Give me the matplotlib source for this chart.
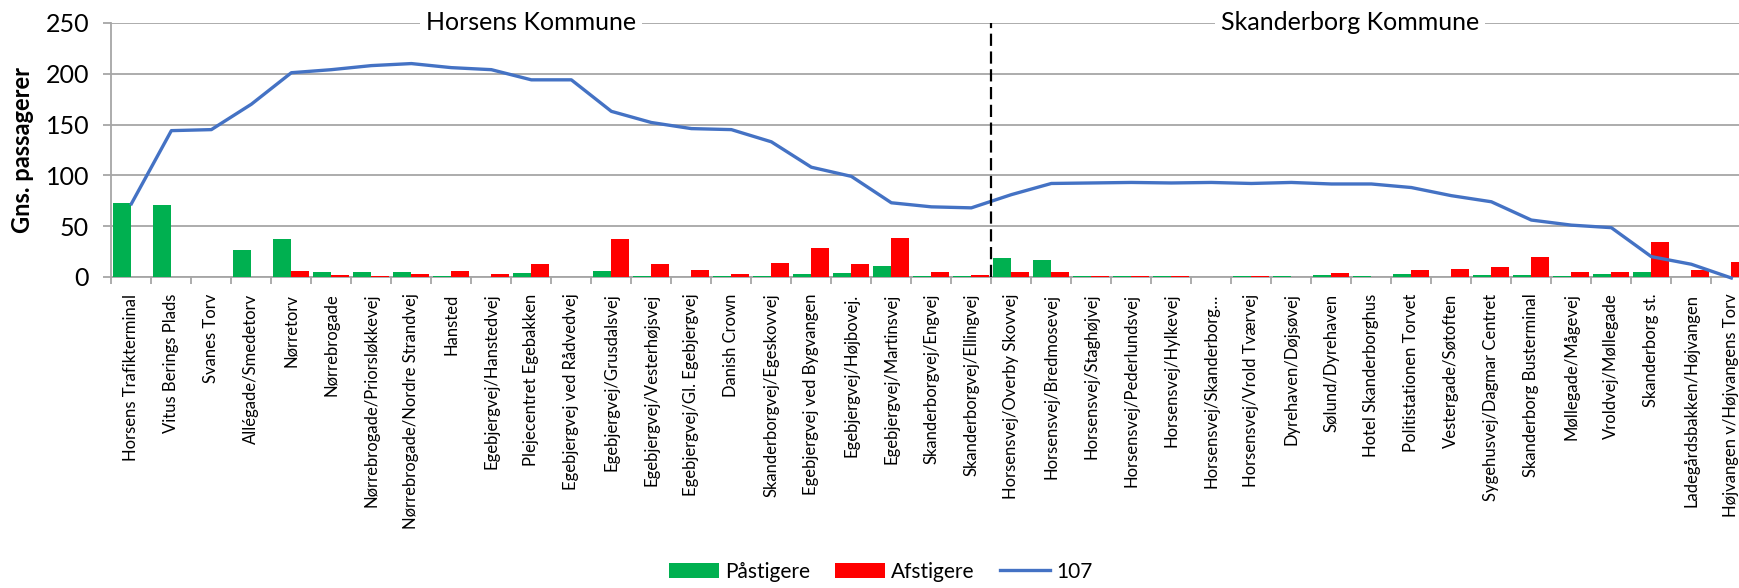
import matplotlib
matplotlib.use("Agg")
import matplotlib.pyplot as plt
from matplotlib.patches import Patch
from matplotlib.lines import Line2D
import numpy as np

plt.rcParams['font.family'] = ['Lato', 'DejaVu Sans']

stops = [
    "Horsens Trafikterminal", "Vitus Berings Plads", "Svanes Torv", "Allégade/Smedetorv",
    "Nørretorv", "Nørrebrogade", "Nørrebrogade/Priorsløkkevej", "Nørrebrogade/Nordre Strandvej",
    "Hansted", "Egebjergvej/Hanstedvej", "Plejecentret Egebakken", "Egebjergvej ved Rådvedvej",
    "Egebjergvej/Grusdalsvej", "Egebjergvej/Vesterhøjsvej", "Egebjergvej/Gl. Egebjergvej",
    "Danish Crown", "Skanderborgvej/Egeskovvej", "Egebjergvej ved Bygvangen",
    "Egebjergvej/Højbovej.", "Egebjergvej/Martinsvej", "Skanderborgvej/Engvej",
    "Skanderborgvej/Ellingvej",
    "Horsensvej/Overby Skovvej", "Horsensvej/Bredmosevej", "Horsensvej/Staghøjvej",
    "Horsensvej/Pederlundsvej", "Horsensvej/Hylkevej", "Horsensvej/Skanderborg…",
    "Horsensvej/Vrold Tværvej", "Dyrehaven/Døjsøvej", "Sølund/Dyrehaven",
    "Hotel Skanderborghus", "Politistationen Torvet", "Vestergade/Søtoften",
    "Sygehusvej/Dagmar Centret", "Skanderborg Busterminal", "Møllegade/Mågevej",
    "Vroldvej/Møllegade", "Skanderborg st.", "Ladegårdsbakken/Højvangen",
    "Højvangen v/Højvangens Torv",
]

paastigere = [73, 71, 0, 27, 37, 5, 4.5, 5, 1, 0, 3.5, 0, 6, 0.7, 0, 1.4, 0.7, 3.2, 4, 11,
              0.7, 0.7, 19, 17, 1, 1.4, 0.7, 0.3, 0.7, 1, 2, 1, 2.7, 0, 2, 2, 0.7, 2.7, 5, 0, 0]
afstigere = [0, 0, 0, 0, 6, 2, 1, 3, 5.5, 2.8, 13, 0, 37, 12.5, 6.4, 3.2, 13.5, 28, 13, 38,
             5.3, 2, 5.3, 5.3, 1, 1, 1, 0.3, 1, 0.3, 4, 0.3, 6.5, 8, 9.3, 20, 5, 5, 34, 7, 15]
load_107 = [72, 144, 145, 170, 201, 204, 208, 210, 206, 204, 194, 194, 163, 152, 146, 145,
            133, 108, 99, 73, 69, 68, 81, 92, 92.5, 93, 92.5, 93, 92, 93, 91.5, 91.5, 88, 80,
            74, 56, 51, 48.5, 20, 12.5, -1]

kommuner = ["Horsens Kommune", "Skanderborg Kommune"]
n_horsens = 22

green = "#00B050"
red = "#FF0000"
blue = "#4472C4"
grid_c = "#A6A6A6"

fig = plt.figure(figsize=(17.4, 5.88), dpi=100)
ax = fig.add_axes([0.064, 0.529, 0.9425, 0.432])

x = np.arange(len(stops))
w = 0.45
ax.bar(x - w / 2, paastigere, width=w, color=green, zorder=3)
ax.bar(x + w / 2, afstigere, width=w, color=red, zorder=3)
ax.plot(x, load_107, color=blue, lw=2.4, zorder=4, clip_on=False, solid_joinstyle='round')

ax.set_xlim(-0.5, len(stops) - 0.5)
ax.set_ylim(0, 250)
ax.set_yticks([0, 50, 100, 150, 200, 250])
ax.yaxis.grid(True, color=grid_c, lw=1.3, zorder=0)
ax.set_axisbelow(True)

ax.set_xticks(x)
ax.set_xticklabels(stops, rotation=90, fontsize=12, va='top', ha='center')
ax.set_xticks(np.arange(-0.5, len(stops), 1), minor=True)
ax.tick_params(axis='x', which='major', length=0, pad=12)
ax.tick_params(axis='x', which='minor', length=5, color=grid_c, width=1.3)
ax.tick_params(axis='y', length=6, color=grid_c, width=1.3, labelsize=18, pad=10)

for s in ['top', 'right']:
    ax.spines[s].set_visible(False)
for s in ['left', 'bottom']:
    ax.spines[s].set_color(grid_c)
    ax.spines[s].set_linewidth(1.3)

ax.set_ylabel("Gns. passagerer", fontsize=17, fontweight='bold', labelpad=8)

# boundary between the two municipalities
bx = n_horsens - 0.5
ax.plot([bx, bx], [0, 250], color='black', lw=1.6, ls=(0, (5.5, 2.5)), zorder=5, clip_on=False)

ax.text(9.99, 250, kommuner[0], fontsize=18, ha='center', va='center', zorder=6,
        bbox=dict(facecolor='white', edgecolor='none', pad=4))
ax.text(30.47, 250, kommuner[1], fontsize=18, ha='center', va='center', zorder=6,
        bbox=dict(facecolor='white', edgecolor='none', pad=4))

handles = [Patch(facecolor=green, edgecolor='none'), Patch(facecolor=red, edgecolor='none'),
           Line2D([0], [0], color=blue, lw=2.4)]
fig.legend(handles, ["Påstigere", "Afstigere", "107"], loc='center',
           bbox_to_anchor=(0.506, 0.028), ncol=3, frameon=False, fontsize=15,
           handlelength=2.4, handleheight=0.7, handletextpad=0.3, columnspacing=1.2)

fig.savefig("out.png", dpi=100)
